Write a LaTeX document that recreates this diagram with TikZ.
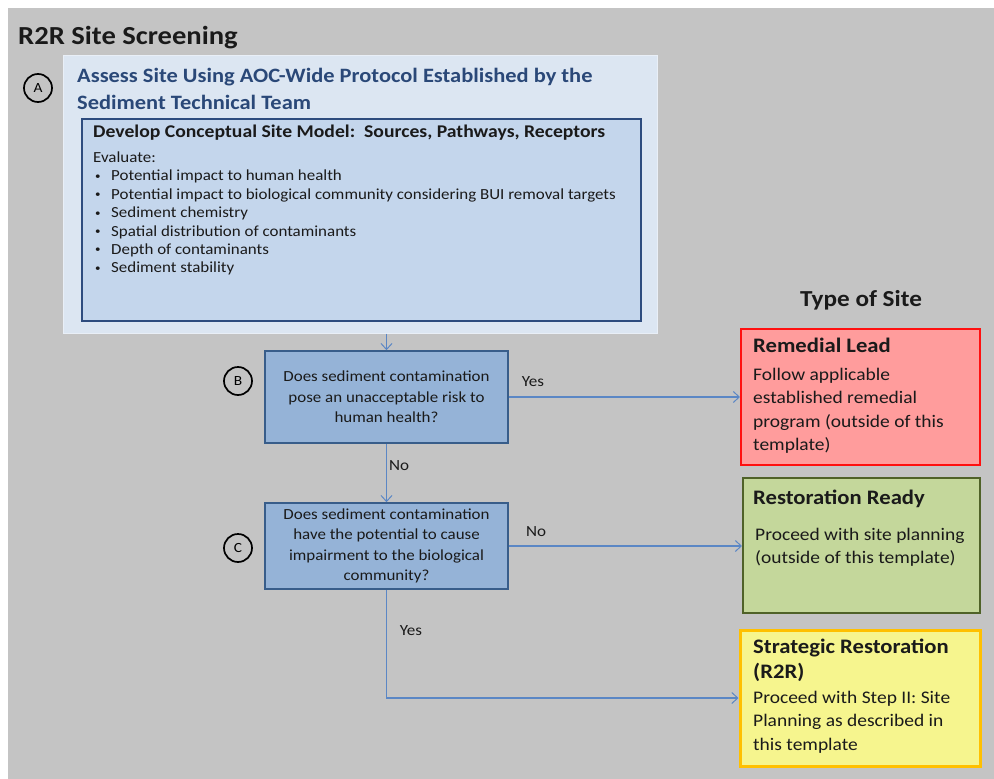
\documentclass[tikz,border=0pt]{standalone}
\usepackage{fontspec}
\setmainfont[FakeStretch=1.1]{Carlito}
\usetikzlibrary{arrows.meta}

\definecolor{bggray}{HTML}{C4C4C4}
\definecolor{outerfill}{HTML}{DCE6F2}
\definecolor{outeredge}{HTML}{E9EFF7}
\definecolor{innerfill}{HTML}{C4D6EC}
\definecolor{inneredge}{HTML}{2E4C7E}
\definecolor{qfill}{HTML}{95B3D7}
\definecolor{qedge}{HTML}{385D8A}
\definecolor{headblue}{HTML}{2A4878}
\definecolor{linkblue}{HTML}{5B87C5}
\definecolor{redfill}{HTML}{FF9C9C}
\definecolor{rededge}{HTML}{FF1010}
\definecolor{greenfill}{HTML}{C4D79B}
\definecolor{greenedge}{HTML}{4F6228}
\definecolor{yellowfill}{HTML}{F6F58E}
\definecolor{yellowedge}{HTML}{FFC000}
\definecolor{ink}{HTML}{1A1A1A}

% small list bullet followed by the item indent
\newcommand{\blt}{\makebox[16pt][l]{\raisebox{1.6pt}{\fontsize{10}{10}\selectfont•}}}

\tikzset{
  outerbox/.style={draw=outeredge, line width=1pt, fill=outerfill, inner sep=0pt},
  innerbox/.style={draw=inneredge, line width=2pt, fill=innerfill, inner sep=0pt},
  qbox/.style={draw=qedge, line width=1.6pt, fill=qfill, align=center, text=ink,
    minimum width=243pt, font=\fontsize{15.4}{20.5}\selectfont},
  sitebox/.style={line width=2pt, inner sep=0pt},
  tag/.style={draw=black, line width=1.7pt, circle, minimum size=28pt, inner sep=0pt,
    font=\fontsize{14}{14}\selectfont},
  link/.style={draw=linkblue, line width=1.2pt, -{Straight Barb[length=6pt,width=11pt,line width=1pt]}},
  lbl/.style={text=ink, font=\fontsize{15.5}{15.5}\selectfont, inner sep=0pt},
  sitetitle/.style={anchor=north west, align=left, inner sep=0pt, text=ink,
    font=\fontsize{20.6}{25}\selectfont\bfseries},
  sitetext/.style={anchor=north west, align=left, inner sep=0pt, text=ink,
    font=\fontsize{17.7}{23.3}\selectfont},
  listtext/.style={anchor=north west, inner sep=0pt, text=ink, align=left,
    font=\fontsize{15.4}{18.4}\selectfont},
}

\begin{document}
\begin{tikzpicture}[x=1pt,y=-1pt]
  % page and background panel
  \useasboundingbox (0,0) rectangle (994,779);
  \fill[bggray] (8,8) rectangle (994,779);

  % title
  \node[anchor=base west, inner sep=0pt, text=ink,
        font=\fontsize{26}{26}\selectfont\bfseries] (title) at (18,44) {R2R Site Screening};

  % step A: assessment panel
  \node[outerbox, minimum width=594pt, minimum height=278pt] (A) at (360,194) {};
  \node[tag] (tagA) at (38,88) {A};
  \node[anchor=north west, align=left, inner sep=0pt, text=headblue,
        font=\fontsize{20.4}{27}\selectfont\bfseries] (headA) at (77,68)
        {Assess Site Using AOC-Wide Protocol Established by the\\Sediment Technical Team};

  \node[innerbox, minimum width=559pt, minimum height=202pt] (M) at (361.5,220) {};
  \node[anchor=north west, inner sep=0pt, text=ink,
        font=\fontsize{17.9}{17.9}\selectfont\bfseries] (headM) at (93,125)
        {Develop Conceptual Site Model:\ \ Sources, Pathways, Receptors};
  \node[listtext] (evalM) at (93,152) {Evaluate:};
  \node[listtext] (listM) at (95,170)
        {\blt Potential impact to human health\\
         \blt Potential impact to biological community considering BUI removal targets\\
         \blt Sediment chemistry\\
         \blt Spatial distribution of contaminants\\
         \blt Depth of contaminants\\
         \blt Sediment stability};

  % step B and step C questions
  \node[qbox, minimum height=92pt] (B) at (386.5,397)
    {Does sediment contamination\\pose an unacceptable risk to\\human health?};
  \node[tag] (tagB) at (238,381) {B};

  \node[qbox, minimum height=86pt] (C) at (386.5,546)
    {Does sediment contamination\\have the potential to cause\\impairment to the biological\\community?};
  \node[tag] (tagC) at (238,548) {C};

  % type of site outcomes
  \node[inner sep=0pt, text=ink, font=\fontsize{22.9}{22.9}\selectfont\bfseries] (typehead) at (861,300) {Type of Site};

  \node[sitebox, draw=rededge, fill=redfill, minimum width=239pt, minimum height=136pt] (R) at (860.5,397) {};
  \node[sitetitle] (Rt) at (753,338) {Remedial Lead};
  \node[sitetext] (Rb) at (753,368) {Follow applicable\\established remedial\\program (outside of this\\template)};

  \node[sitebox, draw=greenedge, fill=greenfill, minimum width=237pt, minimum height=135pt] (G) at (861.5,545.5) {};
  \node[sitetitle] (Gt) at (753,490) {Restoration Ready};
  \node[sitetext] (Gb) at (755,528) {Proceed with site planning\\(outside of this template)};

  \node[sitebox, draw=yellowedge, line width=3pt, fill=yellowfill, minimum width=240pt, minimum height=136pt] (S) at (860,698) {};
  \node[sitetitle] (St) at (753,639) {Strategic Restoration\\(R2R)};
  \node[sitetext] (Sb) at (753,691) {Proceed with Step II: Site\\Planning as described in\\this template};

  % connectors
  \draw[link] (B.north |- A.south) -- (B.north);
  \draw[link] (B.east) -- (R.west);
  \draw[link] (B.south) -- (C.north);
  \draw[link] (C.east) -- (C.east -| G.west);
  \draw[link] (C.south) |- (S.west);

  % branch labels
  \node[lbl] (yesB) at (533,382) {Yes};
  \node[lbl] (noB) at (399,466) {No};
  \node[lbl] (noC) at (536,532) {No};
  \node[lbl] (yesC) at (411,631) {Yes};
\end{tikzpicture}
\end{document}
